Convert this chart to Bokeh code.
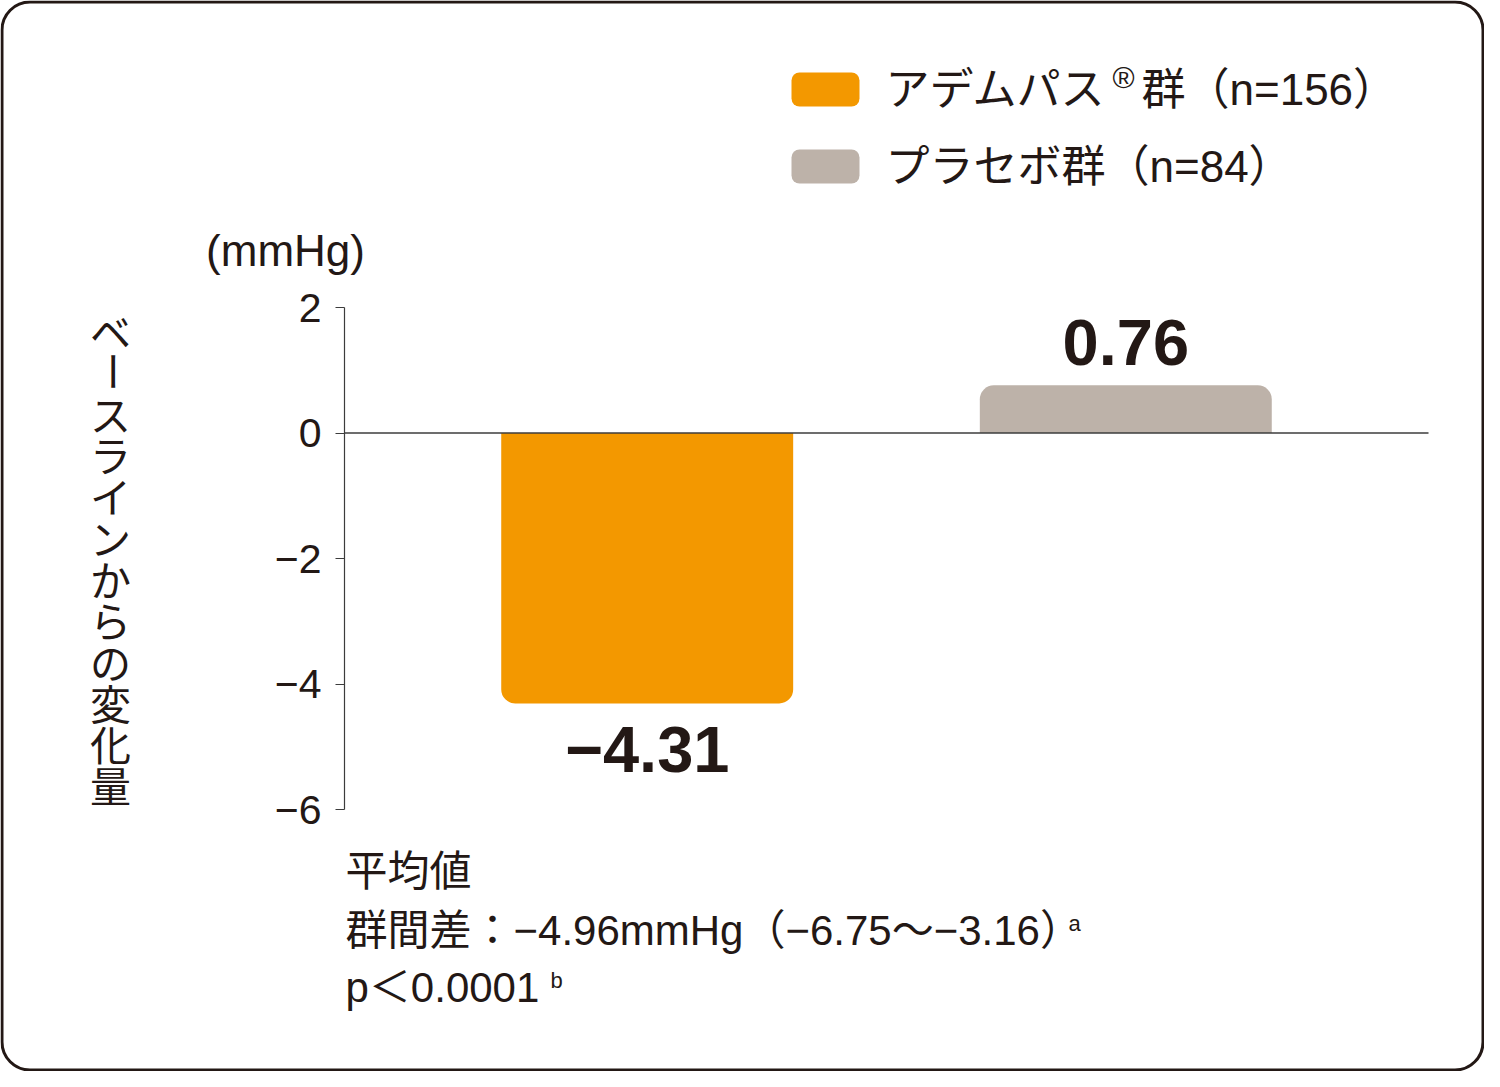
import math
from bokeh.plotting import figure
from bokeh.models import (Range1d, FixedTicker, Label, BoxAnnotation,
                          ColumnDataSource)
from bokeh.core.properties import value
from bokeh.embed import file_html
from bokeh.resources import INLINE

# ---------------- data ----------------
categories = ["アデムパス群", "プラセボ群"]
values = [-4.31, 0.76]
colors = ["#F39800", "#BDB2A9"]
legend_main = ["アデムパス", "プラセボ群（n=84）"]
legend_sup = ["®", ""]
legend_rest = ["群（n=156）", ""]
y_ticks = [2, 0, -2, -4, -6]
y_tick_labels = ["2", "0", "−2", "−4", "−6"]
y_title = "ベースラインからの変化量"
unit_label = "(mmHg)"
notes = ["平均値", "群間差：−4.96mmHg（−6.75〜−3.16）", "p＜0.0001"]
note_marks = ["", "a", "b"]

JP = "Noto Sans CJK JP"
MIX = "Liberation Sans, Noto Sans CJK JP"
LAT = "Liberation Sans"
INK = "#231815"
W, H = 1484, 1071

# ---------------- scales ----------------
xpos = [i + 1 for i in range(len(categories))]     # category index
pad = 0.6325                                         # plot padding (x units)
x_lo, x_hi = xpos[0] - pad, xpos[-1] + pad
px_x = 1084 / (x_hi - x_lo)
y_lo, y_hi = min(y_ticks), max(y_ticks)
px_y = 502 / (y_hi - y_lo)

p = figure(x_range=Range1d(x_lo - 344 / px_x, x_hi + (W - 1428) / px_x),
           y_range=Range1d(y_lo - (H - 809) / px_y, y_hi + 307 / px_y),
           width=W, height=H, min_border=0,
           output_backend="svg", toolbar_location=None)
p.xaxis.visible = False
p.xgrid.visible = False
p.ygrid.visible = False
p.outline_line_color = None
p.background_fill_color = "white"
p.border_fill_color = "white"

ax = p.yaxis[0]
ax.fixed_location = x_lo
ax.bounds = (y_lo, y_hi)
ax.ticker = FixedTicker(ticks=y_ticks)
ax.major_label_overrides = {t: s for t, s in zip(y_ticks, y_tick_labels)}
ax.major_tick_out = 9
ax.major_tick_in = 0
ax.minor_tick_line_color = None
ax.axis_line_color = "#3c3c3c"
ax.major_tick_line_color = "#3c3c3c"
ax.axis_line_width = 1.2
ax.major_tick_line_width = 1.2
ax.major_label_text_font = LAT
ax.major_label_text_font_size = "41px"
ax.major_label_text_color = INK
ax.major_label_standoff = 14

# bars
radii = [(0, 0, 14, 14), (14, 14, 0, 0)]
for xp, v, col, r in zip(xpos, values, colors, radii):
    p.vbar(x=[xp], top=[max(v, 0)], bottom=[min(v, 0)], width=0.61,
           fill_color=col, line_color=None, border_radius=r)

# zero line
p.segment(x0=[x_lo], y0=[0], x1=[x_hi], y1=[0], line_color="#3c3c3c",
          line_width=1.5)

# value labels
src = ColumnDataSource(dict(
    x=xpos, y=values,
    t=[f"{v:.2f}".replace("-", "−") for v in values],
    off=[46 if v < 0 else -43 for v in values]))
p.text(x="x", y="y", text="t", y_offset="off", source=src,
       text_font=value(LAT), text_font_style="bold",
       text_font_size="65px", text_color=INK,
       text_align="center", text_baseline="middle")

def lab(x, y, t, size, align="left", angle=0.0, font=MIX, style="normal"):
    p.add_layout(Label(x=x, y=y, x_units="canvas", y_units="canvas", text=t,
                       text_font=font, text_font_size=f"{size}px",
                       text_color=INK, text_align=align,
                       text_baseline="middle", angle=angle,
                       text_font_style=style))

def box(l, r, t, b, **kw):
    p.add_layout(BoxAnnotation(left=l, right=r, top=t, bottom=b,
                               left_units="canvas", right_units="canvas",
                               top_units="canvas", bottom_units="canvas",
                               **kw))

# legend
rows_y = [89, 166]
for i in range(2):
    y = rows_y[i]
    box(791, 859, y - 17, y + 17, fill_color=colors[i], fill_alpha=1,
        line_color=None, line_alpha=0, border_radius=8)
    lab(885, y, legend_main[i], 44)
    if legend_sup[i]:
        lab(1123, y - 12, legend_sup[i], 30, align="center", font=LAT)
        lab(1141, y, legend_rest[i], 44)

# unit label
lab(285, 250, unit_label, 44, align="center", font=LAT)

# vertical y title (upright characters)
for k, ch in enumerate(y_title):
    cy = 309 + 41.3 * (k + 0.5)
    lab(110, cy, ch, 41, align="center", font=JP,
        angle=(math.pi / 2 if ch == "ー" else 0.0))

# footnotes
note_y = [871, 930, 987]
mark_x = [0, 1074, 556]
for i, t in enumerate(notes):
    lab(345, note_y[i], t, 42)
    if note_marks[i]:
        lab(mark_x[i], note_y[i] - 7, note_marks[i], 22, align="center",
            font=LAT)

# outer rounded border
box(1.5, W - 1.5, 1.5, H - 1.5, fill_alpha=0, line_color=INK, line_alpha=1,
    line_width=3, border_radius=28)

open("out.html", "w").write(file_html(p, INLINE))
